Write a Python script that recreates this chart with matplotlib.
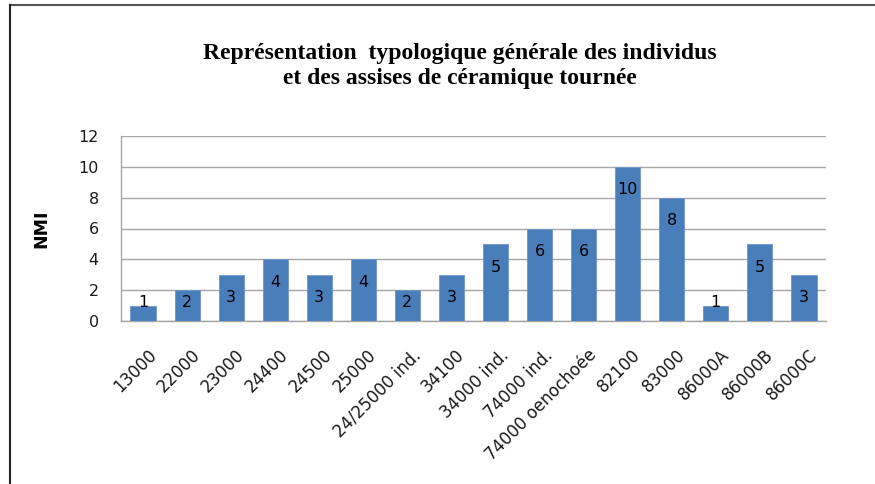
import matplotlib
matplotlib.use("Agg")
import matplotlib.pyplot as plt
from matplotlib.lines import Line2D
from matplotlib.transforms import ScaledTranslation

categories = ["13000", "22000", "23000", "24400", "24500", "25000",
              "24/25000 ind.", "34100", "34000 ind.", "74000 ind.",
              "74000 oenochoée", "82100", "83000", "86000A", "86000B", "86000C"]
nmi = [1, 2, 3, 4, 3, 4, 2, 3, 5, 6, 6, 10, 8, 1, 5, 3]
yticks = [0, 2, 4, 6, 8, 10, 12]

title = "Représentation  typologique générale des individus\net des assises de céramique tournée"

W, H = 875, 484
fig = plt.figure(figsize=(W / 100, H / 100), dpi=100)
ax = fig.add_axes([121 / W, 1 - 321 / H, 705 / W, 185 / H])

x = range(len(categories))
ax.bar(x, nmi, width=0.57, color="#4a7ebb", edgecolor="#6f97c9", linewidth=0.6, zorder=3)
ax.set_xlim(-0.5, len(categories) - 0.5)
ax.set_ylim(0, 12)
ax.set_yticks(yticks)
ax.yaxis.grid(True, color="#a6a6a6", linewidth=1.0, zorder=0)

for s in ["top", "right"]:
    ax.spines[s].set_visible(False)
for s in ["left", "bottom"]:
    ax.spines[s].set_color("#a6a6a6")
    ax.spines[s].set_linewidth(1.0)

ax.tick_params(axis="y", length=0, pad=16, labelsize=11.5, labelcolor="#1a1a1a")
ax.tick_params(axis="x", length=0, pad=18)
ax.set_xticks(list(x))
ax.set_xticklabels(categories, rotation=45, ha="right", rotation_mode="anchor",
                   fontsize=12, color="#1a1a1a")
# nudge the rotated labels a few pixels to the right, like the original
shift = ScaledTranslation(4 / 100, 0, fig.dpi_scale_trans)
for lab in ax.get_xticklabels():
    lab.set_transform(lab.get_transform() + shift)

# value labels inside the top of each bar
for i, v in enumerate(nmi):
    ax.text(i, max(v - 1.5, 1.2), str(v), ha="center", va="center",
            fontsize=11.5, color="black", zorder=4)

ax.set_ylabel("NMI", fontsize=12.5, fontweight="bold", labelpad=20)

fig.text(460 / W, 1 - 66 / H, title, ha="center", va="center", fontsize=17,
         fontweight="bold", family="Liberation Serif", linespacing=1.2)

# frame lines (top and left)
fig.add_artist(Line2D([10 / W, 1], [1 - 5 / H, 1 - 5 / H], color="#555555", linewidth=1.5))
fig.add_artist(Line2D([10 / W, 10 / W], [0, 1 - 5 / H], color="#222222", linewidth=1.5))

fig.savefig("out.png", dpi=100)
